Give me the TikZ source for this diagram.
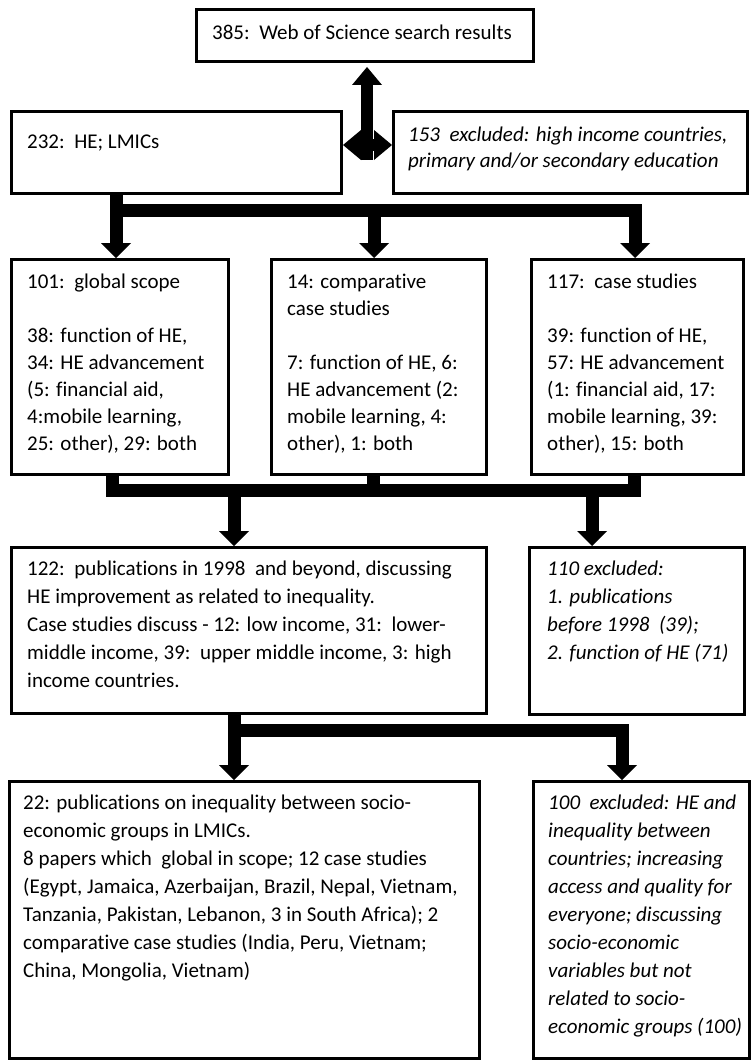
\documentclass[tikz,border=0pt]{standalone}
\usepackage{fontspec}
\setmainfont{Carlito}[Ligatures={NoCommon}]
\usetikzlibrary{arrows.meta,calc}
\newcommand\boxtext[2]{\parbox[t]{480pt}{\fontsize{21}{#1}\selectfont #2}}
\begin{document}
\begin{tikzpicture}[x=1pt,y=-1pt,
  box/.style={draw=black, line width=3pt, anchor=north west, inner sep=0pt},
  txt/.style={anchor=base west, inner sep=0pt, font=\fontsize{21}{28}\selectfont},
  pipe/.style={line width=13pt, line join=miter},
  flow/.style={pipe, -{Triangle[width=30pt,length=15pt,line width=0pt]}},
  bigtip/.style={-{Triangle[width=30pt,length=18pt,line width=0pt]}},
  dbltip/.style={{Triangle[width=30pt,length=18pt,line width=0pt]}-{Triangle[width=30pt,length=18pt,line width=0pt]}}
]
\useasboundingbox (0,0) rectangle (750,1062);
\fill[white] (0,0) rectangle (750,1062);

% boxes
\node[box, minimum width=337pt, minimum height=52pt] (b385) at (195,8) {};
\node[box, minimum width=330pt, minimum height=82pt] (b232) at (10,110) {};
\node[box, minimum width=354pt, minimum height=82pt] (b153) at (392,110) {};
\node[box, minimum width=217pt, minimum height=215pt] (b101) at (10,258) {};
\node[box, minimum width=215pt, minimum height=215pt] (b14) at (270,258) {};
\node[box, minimum width=212pt, minimum height=215pt] (b117) at (530,258) {};
\node[box, minimum width=475pt, minimum height=166pt] (b122) at (10,546) {};
\node[box, minimum width=215pt, minimum height=167pt] (b110) at (528,546) {};
\node[box, minimum width=470pt, minimum height=277pt] (b22) at (8,780) {};
\node[box, minimum width=216pt, minimum height=277pt] (b100) at (532,780) {};

% texts
\node[txt] (t385) at ($(b385.north west)+(17,32)$) {385:\ \ Web of Science search results};
\node[txt] (t232) at ($(b232.north west)+(17,38)$) {232:\ \ HE; LMICs};
\node[txt] (t153) at ($(b153.north west)+(16,32)$) {\boxtext{25pt}{\itshape 153\ \ excluded: high income countries,\\ primary and/or secondary education}};
\node[txt] (t101) at ($(b101.north west)+(17,30)$) {\boxtext{27pt}{101:\ \ global scope\\[27pt]
38: function of HE,\\ 34: HE advancement\\ (5: financial aid,\\ 4:mobile learning,\\ 25: other), 29: both}};
\node[txt] (t14) at ($(b14.north west)+(17,30)$) {\boxtext{27pt}{14: comparative\\ case studies\\[27pt]
7: function of HE, 6:\\ HE advancement (2:\\ mobile learning, 4:\\ other), 1: both}};
\node[txt] (t117) at ($(b117.north west)+(17,30)$) {\boxtext{27pt}{117:\ \ case studies\\[27pt]
39: function of HE,\\ 57: HE advancement\\ (1: financial aid, 17:\\ mobile learning, 39:\\ other), 15: both}};
\node[txt] (t122) at ($(b122.north west)+(17,29)$) {\boxtext{28pt}{122:\ \ publications in 1998\ \ and beyond, discussing\\
HE improvement as related to inequality.\\
Case studies discuss - 12: low income, 31:\ \ lower-\\
middle income, 39:\ \ upper middle income, 3: high\\
income countries.}};
\node[txt] (t110) at ($(b110.north west)+(19,29)$) {\boxtext{28pt}{\itshape 110 excluded:\\ 1. publications\\ before 1998\ \ (39);\\ 2. function of HE (71)}};
\node[txt] (t22) at ($(b22.north west)+(15,29)$) {\boxtext{28pt}{22: publications on inequality between socio-\\
economic groups in LMICs.\\
8 papers which\ \ global in scope; 12 case studies\\
(Egypt, Jamaica, Azerbaijan, Brazil, Nepal, Vietnam,\\
Tanzania, Pakistan, Lebanon, 3 in South Africa); 2\\
comparative case studies (India, Peru, Vietnam;\\
China, Mongolia, Vietnam)}};
\node[txt] (t100) at ($(b100.north west)+(16,29)$) {\boxtext{28pt}{\itshape 100\ \ excluded: HE and\\ inequality between\\ countries; increasing\\ access and quality for\\ everyone; discussing\\ socio-economic\\ variables but not\\ related to socio-\\ economic groups (100)}};

% top connectors
\coordinate (hub) at (367,160);
\coordinate (hmid) at (367,145);
\draw[pipe, line width=12pt, bigtip] (hub) -- ($(hub |- b385.south)+(0,4)$);
\draw[line width=12pt, dbltip] (b232.east |- hmid) -- (b153.west |- hmid);

% row 1 -> row 2
\coordinate (j1) at (116,210);
\coordinate (j1m) at (374,210);
\coordinate (j1r) at (635,210);
\draw[flow] (b232.south -| j1) -- (j1) -- (j1r) -- (b117.north -| j1r);
\draw[flow] (j1) -- (b101.north -| j1);
\draw[flow] (j1m) -- (b14.north -| j1m);

% row 2 -> row 3
\coordinate (j2) at (112,490);
\coordinate (j2m) at (373,490);
\coordinate (j2r) at (634,490);
\coordinate (j2a) at (234,490);
\coordinate (j2b) at (592,490);
\draw[pipe] (b101.south -| j2) -- (j2) -- (j2r) -- (b117.south -| j2r);
\draw[pipe] (b14.south -| j2m) -- (j2m);
\draw[flow] (j2a) -- (b122.north -| j2a);
\draw[flow] (j2b) -- (b110.north -| j2b);

% row 3 -> row 4
\coordinate (j3) at (234,730);
\coordinate (j3r) at (622,730);
\draw[flow] (b122.south -| j3) -- (b22.north -| j3);
\draw[flow] (j3) -- (j3r) -- (b100.north -| j3r);
\end{tikzpicture}
\end{document}
